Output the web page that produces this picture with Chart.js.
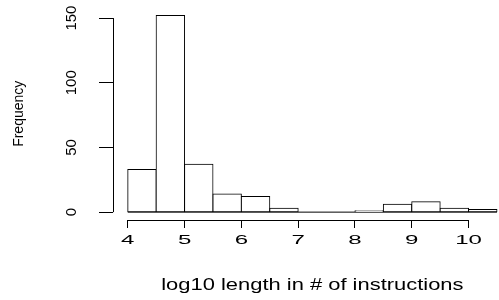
<!DOCTYPE html>
<html>
<head>
<meta charset="utf-8">
<script src="https://cdn.jsdelivr.net/npm/chart.js@4.4.1/dist/chart.umd.min.js"></script>
<style>
  html, body { margin: 0; padding: 0; background: #fff; }
</style>
</head>
<body>
<canvas id="histChart" width="499" height="300"></canvas>
<script>
// histogram bins (edges) and counts per bin
const breaks = [4, 4.5, 5, 5.5, 6, 6.5, 7, 7.5, 8, 8.5, 9, 9.5, 10, 10.5];
const counts = [33, 152, 37, 14, 12, 3, 0, 0, 1, 6, 8, 3, 2];
const xTicks = [4, 5, 6, 7, 8, 9, 10];
const yTicks = [0, 50, 100, 150];
const xTitle = "log10 length in # of instructions";
const yTitle = "Frequency";

// R style plot region (4% padding), cropped on the right
const xMin = 3.74, xMax = 10.536, xMid = 7.25;
const yMin = -6.08, yMax = 158.08;

const barData = counts.map((c, i) => ({ x: (breaks[i] + breaks[i + 1]) / 2, y: c }));
const baseData = [{ x: breaks[0], y: 0 }, { x: breaks[breaks.length - 1], y: 0 }];

const font = "Liberation Sans";

// axis lines only over the tick range + stretched x labels, like R's base graphics
const rAxes = {
    id: 'rAxes',
    afterDraw(chart) {
        const { ctx, chartArea, scales: { x, y } } = chart;
        ctx.save();
        ctx.strokeStyle = '#000';
        ctx.lineWidth = 1;
        ctx.beginPath();
        const ax = Math.round(chartArea.left) + 0.5;
        ctx.moveTo(ax, y.getPixelForValue(yTicks[0]));
        ctx.lineTo(ax, y.getPixelForValue(yTicks[yTicks.length - 1]));
        const ay = Math.round(chartArea.bottom) + 0.5;
        ctx.moveTo(x.getPixelForValue(xTicks[0]), ay);
        ctx.lineTo(x.getPixelForValue(xTicks[xTicks.length - 1]), ay);
        ctx.stroke();

        ctx.fillStyle = '#000';
        ctx.textAlign = 'center';
        ctx.textBaseline = 'alphabetic';
        ctx.font = '13px "' + font + '"';
        xTicks.forEach(v => {
            ctx.save();
            ctx.translate(x.getPixelForValue(v), chartArea.bottom + 23.5);
            ctx.scale(1.85, 1);
            ctx.fillText(String(v), 0, 0);
            ctx.restore();
        });
        ctx.font = '17px "' + font + '"';
        ctx.save();
        ctx.translate(x.getPixelForValue(xMid), chartArea.bottom + 69.5);
        ctx.scale(1.29, 1);
        ctx.fillText(xTitle, 0, 0);
        ctx.restore();
        ctx.restore();
    }
};

new Chart(document.getElementById("histChart"), {
    type: "bar",
    data: {
        datasets: [{
            label: "counts",
            data: barData,
            backgroundColor: "#fff",
            borderColor: "#000",
            borderWidth: 1,
            borderSkipped: false,
            inflateAmount: 0.5,
            barPercentage: 1,
            categoryPercentage: 1,
            grouped: false
        }, {
            type: "line",
            label: "base",
            data: baseData,
            borderColor: "#000",
            borderWidth: 1,
            pointRadius: 0,
            fill: false
        }]
    },
    options: {
        responsive: false,
        animation: false,
        devicePixelRatio: 1,
        layout: { padding: { top: 7.6, left: 0, right: 0, bottom: 0 } },
        plugins: { legend: { display: false }, tooltip: { enabled: false } },
        scales: {
            x: {
                type: "linear",
                min: xMin,
                max: xMax,
                offset: false,
                afterBuildTicks: a => { a.ticks = xTicks.map(v => ({ value: v })); },
                afterFit: a => { a.height = 80; a.paddingLeft = 0; a.paddingRight = 0; },
                grid: { drawOnChartArea: false, tickLength: 8, color: "#000", offset: false },
                border: { display: false },
                ticks: { display: false }
            },
            y: {
                type: "linear",
                min: yMin,
                max: yMax,
                afterBuildTicks: a => { a.ticks = yTicks.map(v => ({ value: v })); },
                afterFit: a => { a.width = 113; a.paddingTop = 0; a.paddingBottom = 0; },
                grid: { drawOnChartArea: false, tickLength: 14, color: "#000" },
                border: { display: false },
                ticks: {
                    minRotation: 90,
                    maxRotation: 90,
                    crossAlign: "center",
                    padding: 15,
                    color: "#000",
                    font: { family: font, size: 15 }
                },
                title: {
                    display: true,
                    text: yTitle,
                    color: "#000",
                    font: { family: font, size: 14 },
                    padding: { top: 10.6, bottom: 0 }
                }
            }
        }
    },
    plugins: [rAxes]
});
</script>
</body>
</html>
